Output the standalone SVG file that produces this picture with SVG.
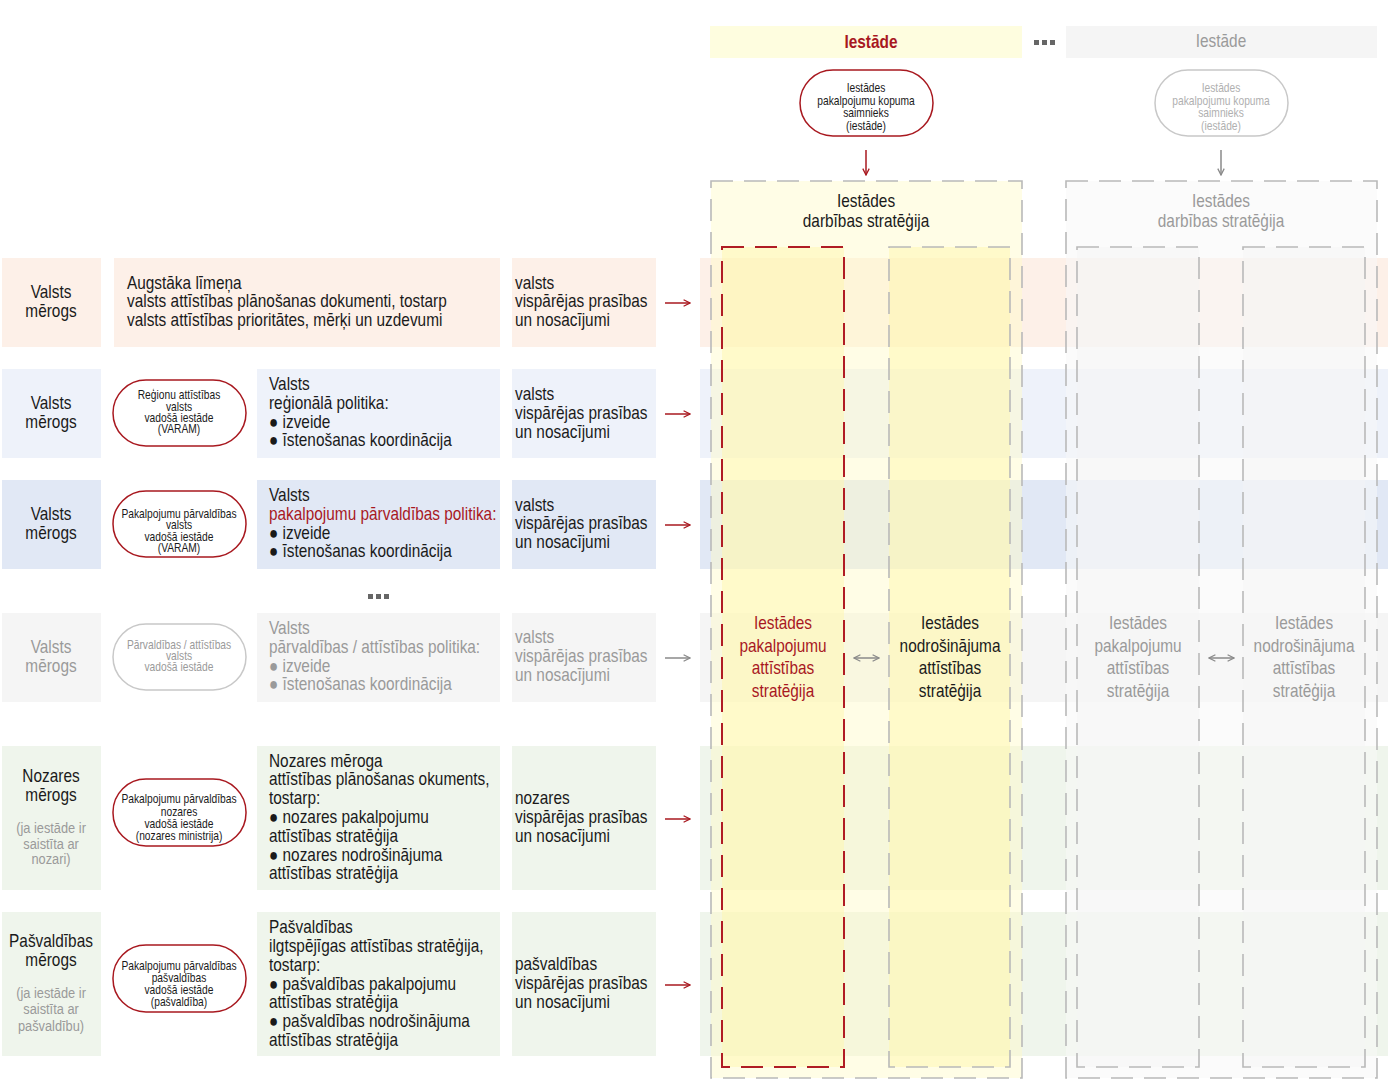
<svg xmlns="http://www.w3.org/2000/svg" width="1388" height="1080" viewBox="0 0 1388 1080">
<defs>
<style>
text{font-family:"Liberation Sans",Arial,sans-serif;font-size:18px;fill:#1a1a1a;transform-box:fill-box;transform-origin:left center;transform:scaleX(0.855)}
.c{text-anchor:middle;transform-origin:center center}
.s{font-size:12px}
.sm{font-size:15px}
.g{fill:#9a9a9a}
.lg{fill:#b0b0b0}
.r{fill:#a8181f}
.b1{fill:#fdf0e8}
.b2{fill:#eef2fa}
.b3{fill:#e1e8f5}
.b4{fill:#f5f5f5}
.b5{fill:#eff5ec}
.pillR{fill:#fff;stroke:#a8181f;stroke-width:1.5}
.pillG{fill:#fff;stroke:#c8c8c8;stroke-width:1.5}
.aR{stroke:#a8181f;stroke-width:1.5;fill:none}
.aG{stroke:#8a8a8a;stroke-width:1.5;fill:none}
.dashG{fill:none;stroke:#b9b9b9;stroke-width:1.6;stroke-dasharray:22 11}
.dashR{fill:none;stroke:#b01c24;stroke-width:2;stroke-dasharray:22 11}
</style>
<marker id="mR" viewBox="0 0 10 10" refX="9" refY="5" markerWidth="8" markerHeight="8" markerUnits="userSpaceOnUse" orient="auto-start-reverse"><path d="M1,1 L9,5 L1,9" fill="none" stroke="#a8181f" stroke-width="1.6"/></marker>
<marker id="mG" viewBox="0 0 10 10" refX="9" refY="5" markerWidth="8" markerHeight="8" markerUnits="userSpaceOnUse" orient="auto-start-reverse"><path d="M1,1 L9,5 L1,9" fill="none" stroke="#8a8a8a" stroke-width="1.6"/></marker>
</defs>
<rect width="1388" height="1080" fill="#fff"/>

<!-- row bands extending into right area -->
<g id="bands">
<rect class="b1" x="700" y="258" width="688" height="89"/>
<rect class="b2" x="700" y="369" width="688" height="89"/>
<rect class="b3" x="700" y="480" width="688" height="89"/>
<rect class="b4" x="700" y="613" width="688" height="89"/>
<rect class="b5" x="700" y="746" width="688" height="144"/>
<rect class="b5" x="700" y="912" width="688" height="144"/>
</g>

<!-- Row 1 -->
<g id="row1">
<rect class="b1" x="2" y="258" width="99" height="89"/>
<text class="c" x="51" y="298">Valsts</text>
<text class="c" x="51" y="317">mērogs</text>
<rect class="b1" x="114" y="258" width="386" height="89"/>
<text x="127" y="289">Augstāka līmeņa</text>
<text x="127" y="307">valsts attīstības plānošanas dokumenti, tostarp</text>
<text x="127" y="326">valsts attīstības prioritātes, mērķi un uzdevumi</text>
<rect class="b1" x="512" y="258" width="144" height="89"/>
<text x="515" y="289">valsts</text>
<text x="515" y="307">vispārējas prasības</text>
<text x="515" y="326">un nosacījumi</text>
</g>

<!-- Row 2 -->
<g id="row2">
<rect class="b2" x="2" y="369" width="99" height="89"/>
<text class="c" x="51" y="409">Valsts</text>
<text class="c" x="51" y="428">mērogs</text>
<rect class="pillR" x="113" y="380" width="133" height="66" rx="33"/>
<text class="c s" x="179" y="399">Reģionu attīstības</text>
<text class="c s" x="179" y="411">valsts</text>
<text class="c s" x="179" y="422">vadošā iestāde</text>
<text class="c s" x="179" y="433">(VARAM)</text>
<rect class="b2" x="257" y="369" width="243" height="89"/>
<text x="269" y="390">Valsts</text>
<text x="269" y="409">reģionālā politika:</text>
<text x="269" y="428">● izveide</text>
<text x="269" y="446">● īstenošanas koordinācija</text>
<rect class="b2" x="512" y="369" width="144" height="89"/>
<text x="515" y="400">valsts</text>
<text x="515" y="419">vispārējas prasības</text>
<text x="515" y="438">un nosacījumi</text>
</g>

<!-- Row 3 -->
<g id="row3">
<rect class="b3" x="2" y="480" width="99" height="89"/>
<text class="c" x="51" y="520">Valsts</text>
<text class="c" x="51" y="539">mērogs</text>
<rect class="pillR" x="113" y="491" width="133" height="66" rx="33"/>
<text class="c s" x="179" y="518">Pakalpojumu pārvaldības</text>
<text class="c s" x="179" y="529">valsts</text>
<text class="c s" x="179" y="541">vadošā iestāde</text>
<text class="c s" x="179" y="552">(VARAM)</text>
<rect class="b3" x="257" y="480" width="243" height="89"/>
<text x="269" y="501">Valsts</text>
<text class="r" x="269" y="520">pakalpojumu pārvaldības politika:</text>
<text x="269" y="539">● izveide</text>
<text x="269" y="557">● īstenošanas koordinācija</text>
<rect class="b3" x="512" y="480" width="144" height="89"/>
<text x="515" y="511">valsts</text>
<text x="515" y="529">vispārējas prasības</text>
<text x="515" y="548">un nosacījumi</text>
</g>

<!-- ellipsis -->
<g id="dots1" fill="#666">
<rect x="368" y="594" width="5" height="5"/><rect x="376" y="594" width="5" height="5"/><rect x="384" y="594" width="5" height="5"/>
</g>

<!-- Row 4 -->
<g id="row4">
<rect class="b4" x="2" y="613" width="99" height="89"/>
<text class="c g" x="51" y="653">Valsts</text>
<text class="c g" x="51" y="672">mērogs</text>
<rect class="pillG" x="113" y="624" width="133" height="66" rx="33"/>
<text class="c s g" x="179" y="649">Pārvaldības / attīstības</text>
<text class="c s g" x="179" y="660">valsts</text>
<text class="c s g" x="179" y="671">vadošā iestāde</text>
<rect class="b4" x="257" y="613" width="243" height="89"/>
<text class="g" x="269" y="634">Valsts</text>
<text class="g" x="269" y="653">pārvaldības / attīstības politika:</text>
<text class="g" x="269" y="672">● izveide</text>
<text class="g" x="269" y="690">● īstenošanas koordinācija</text>
<rect class="b4" x="512" y="613" width="144" height="89"/>
<text class="g" x="515" y="643">valsts</text>
<text class="g" x="515" y="662">vispārējas prasības</text>
<text class="g" x="515" y="681">un nosacījumi</text>
</g>

<!-- Row 5 -->
<g id="row5">
<rect class="b5" x="2" y="746" width="99" height="144"/>
<text class="c" x="51" y="782">Nozares</text>
<text class="c" x="51" y="801">mērogs</text>
<text class="c sm g" x="51" y="833">(ja iestāde ir</text>
<text class="c sm g" x="51" y="849">saistīta ar</text>
<text class="c sm g" x="51" y="864">nozari)</text>
<rect class="pillR" x="113" y="779" width="133" height="67" rx="33"/>
<text class="c s" x="179" y="803">Pakalpojumu pārvaldības</text>
<text class="c s" x="179" y="816">nozares</text>
<text class="c s" x="179" y="828">vadošā iestāde</text>
<text class="c s" x="179" y="840">(nozares ministrija)</text>
<rect class="b5" x="257" y="746" width="243" height="144"/>
<text x="269" y="767">Nozares mēroga</text>
<text x="269" y="785">attīstības plānošanas okuments,</text>
<text x="269" y="804">tostarp:</text>
<text x="269" y="823">● nozares pakalpojumu</text>
<text x="269" y="842">attīstības stratēģija</text>
<text x="269" y="861">● nozares nodrošinājuma</text>
<text x="269" y="879">attīstības stratēģija</text>
<rect class="b5" x="512" y="746" width="144" height="144"/>
<text x="515" y="804">nozares</text>
<text x="515" y="823">vispārējas prasības</text>
<text x="515" y="842">un nosacījumi</text>
</g>

<!-- Row 6 -->
<g id="row6">
<rect class="b5" x="2" y="912" width="99" height="144"/>
<text class="c" x="51" y="947">Pašvaldības</text>
<text class="c" x="51" y="966">mērogs</text>
<text class="c sm g" x="51" y="998">(ja iestāde ir</text>
<text class="c sm g" x="51" y="1014">saistīta ar</text>
<text class="c sm g" x="51" y="1031">pašvaldību)</text>
<rect class="pillR" x="113" y="945" width="133" height="67" rx="33"/>
<text class="c s" x="179" y="970">Pakalpojumu pārvaldības</text>
<text class="c s" x="179" y="982">pašvaldības</text>
<text class="c s" x="179" y="994">vadošā iestāde</text>
<text class="c s" x="179" y="1006">(pašvaldība)</text>
<rect class="b5" x="257" y="912" width="243" height="144"/>
<text x="269" y="933">Pašvaldības</text>
<text x="269" y="952">ilgtspējīgas attīstības stratēģija,</text>
<text x="269" y="971">tostarp:</text>
<text x="269" y="990">● pašvaldības pakalpojumu</text>
<text x="269" y="1008">attīstības stratēģija</text>
<text x="269" y="1027">● pašvaldības nodrošinājuma</text>
<text x="269" y="1046">attīstības stratēģija</text>
<rect class="b5" x="512" y="912" width="144" height="144"/>
<text x="515" y="970">pašvaldības</text>
<text x="515" y="989">vispārējas prasības</text>
<text x="515" y="1008">un nosacījumi</text>
</g>

<!-- Column 1: Iestāde (active) -->
<g id="col1">
<rect x="710" y="26" width="312" height="32" fill="#fefddf"/>
<text class="c r" x="871" y="48" font-weight="bold">Iestāde</text>
<rect x="711" y="181" width="311" height="897" fill="#fffbc8" fill-opacity="0.45"/>
<rect class="dashG" x="711" y="181" width="311" height="897"/>
<text class="c" x="866" y="207">Iestādes</text>
<text class="c" x="866" y="227">darbības stratēģija</text>
</g>
<g id="owner1">
<rect class="pillR" x="800" y="70" width="133" height="66" rx="33"/>
<text class="c s" x="866" y="92">Iestādes</text>
<text class="c s" x="866" y="105">pakalpojumu kopuma</text>
<text class="c s" x="866" y="117">saimnieks</text>
<text class="c s" x="866" y="130">(iestāde)</text>
</g>
<g id="svc1">
<rect x="722" y="247" width="122" height="820" fill="#fff7a8" fill-opacity="0.45"/>
<rect class="dashR" x="722" y="247" width="122" height="820"/>
<text class="c r" x="783" y="629">Iestādes</text>
<text class="c r" x="783" y="652">pakalpojumu</text>
<text class="c r" x="783" y="674">attīstības</text>
<text class="c r" x="783" y="697">stratēģija</text>
</g>
<g id="sup1">
<rect x="889" y="247" width="121" height="820" fill="#fff7a8" fill-opacity="0.45"/>
<rect class="dashG" x="889" y="247" width="121" height="820"/>
<text class="c" x="950" y="629">Iestādes</text>
<text class="c" x="950" y="652">nodrošinājuma</text>
<text class="c" x="950" y="674">attīstības</text>
<text class="c" x="950" y="697">stratēģija</text>
</g>

<g id="dots2" fill="#666">
<rect x="1034" y="40" width="5" height="5"/><rect x="1042" y="40" width="5" height="5"/><rect x="1050" y="40" width="5" height="5"/>
</g>

<!-- Column 2: Iestāde (inactive) -->
<g id="col2">
<rect x="1066" y="26" width="311" height="32" fill="#f5f5f5"/>
<text class="c g" x="1221" y="47">Iestāde</text>
<rect x="1066" y="181" width="311" height="897" fill="#f7f7f7" fill-opacity="0.55"/>
<rect class="dashG" x="1066" y="181" width="311" height="897"/>
<text class="c g" x="1221" y="207">Iestādes</text>
<text class="c g" x="1221" y="227">darbības stratēģija</text>
</g>
<g id="owner2">
<rect class="pillG" x="1155" y="70" width="133" height="66" rx="33"/>
<text class="c s lg" x="1221" y="92">Iestādes</text>
<text class="c s lg" x="1221" y="105">pakalpojumu kopuma</text>
<text class="c s lg" x="1221" y="117">saimnieks</text>
<text class="c s lg" x="1221" y="130">(iestāde)</text>
</g>
<g id="svc2">
<rect x="1077" y="247" width="122" height="820" fill="#f3f3f3" fill-opacity="0.45"/>
<rect class="dashG" x="1077" y="247" width="122" height="820"/>
<text class="c g" x="1138" y="629">Iestādes</text>
<text class="c g" x="1138" y="652">pakalpojumu</text>
<text class="c g" x="1138" y="674">attīstības</text>
<text class="c g" x="1138" y="697">stratēģija</text>
</g>
<g id="sup2">
<rect x="1243" y="247" width="122" height="820" fill="#f3f3f3" fill-opacity="0.45"/>
<rect class="dashG" x="1243" y="247" width="122" height="820"/>
<text class="c g" x="1304" y="629">Iestādes</text>
<text class="c g" x="1304" y="652">nodrošinājuma</text>
<text class="c g" x="1304" y="674">attīstības</text>
<text class="c g" x="1304" y="697">stratēģija</text>
</g>

<!-- connectors -->
<g id="connectors">
<line class="aR" x1="665" y1="303" x2="690" y2="303" marker-end="url(#mR)"/>
<line class="aR" x1="665" y1="414" x2="690" y2="414" marker-end="url(#mR)"/>
<line class="aR" x1="665" y1="525" x2="690" y2="525" marker-end="url(#mR)"/>
<line class="aG" x1="665" y1="658" x2="690" y2="658" marker-end="url(#mG)"/>
<line class="aR" x1="665" y1="819" x2="690" y2="819" marker-end="url(#mR)"/>
<line class="aR" x1="665" y1="985" x2="690" y2="985" marker-end="url(#mR)"/>
<line class="aR" x1="866" y1="150" x2="866" y2="175" marker-end="url(#mR)"/>
<line class="aG" x1="1221" y1="150" x2="1221" y2="175" marker-end="url(#mG)"/>
<line class="aG" x1="854" y1="658" x2="879" y2="658" marker-start="url(#mG)" marker-end="url(#mG)"/>
<line class="aG" x1="1209" y1="658" x2="1234" y2="658" marker-start="url(#mG)" marker-end="url(#mG)"/>
</g>
</svg>
